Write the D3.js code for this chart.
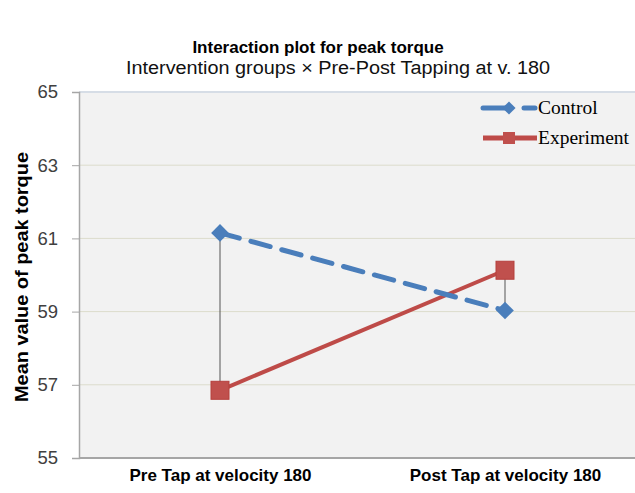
<!DOCTYPE html>
<html><head><meta charset="utf-8">
<script src="https://cdn.jsdelivr.net/npm/d3@7"></script>
<style>body{margin:0;background:#fff}svg{display:block}</style>
</head><body>
<svg id="c" width="635" height="493"></svg>
<script>
const categories = ["Pre Tap at velocity 180", "Post Tap at velocity 180"];
const controlValues = [61.15, 59.03];
const experimentValues = [56.85, 60.13];
const yTicks = [55, 57, 59, 61, 63, 65];
const seriesNames = ["Control", "Experiment"];

const svg = d3.select("#c");
const pL = 79, pR = 635, pT = 92, pB = 458;

const x = d3.scalePoint().domain(categories).range([220, 505]);
const y = d3.scaleLinear().domain([55, 65]).range([pB, pT]);

// plot background
svg.append("rect").attr("x", pL).attr("y", pT).attr("width", pR - pL).attr("height", pB - pT).attr("fill", "#f2f2f2");

// gridlines
svg.append("g").selectAll("line").data(yTicks.filter(t => t > 55 && t < 65)).join("line")
  .attr("x1", pL).attr("x2", pR).attr("y1", d => y(d)).attr("y2", d => y(d))
  .attr("stroke", "#dcdccc").attr("stroke-width", 1);
// top border
svg.append("line").attr("x1", pL).attr("x2", pR).attr("y1", y(65)).attr("y2", y(65)).attr("stroke", "#d6dde6").attr("stroke-width", 2);

// y axis
const yAxis = d3.axisLeft(y).tickValues(yTicks).tickSize(7).tickPadding(14).tickFormat(d3.format("d"));
const gy = svg.append("g").attr("transform", `translate(${pL},0)`).call(yAxis);
gy.select(".domain").attr("stroke", "#a6a6a6").attr("stroke-width", 1.5);
gy.selectAll(".tick line").attr("stroke", "#a6a6a6");
gy.selectAll(".tick text").attr("font-family", "Liberation Sans, Arial, sans-serif").attr("font-size", 18.5).attr("fill", "#404040");

// x axis line
svg.append("line").attr("x1", pL).attr("x2", pR).attr("y1", pB).attr("y2", pB).attr("stroke", "#a6a6a6").attr("stroke-width", 2);
const xAxis = d3.axisBottom(x).tickSize(0).tickPadding(11);
const gx = svg.append("g").attr("transform", `translate(0,${pB})`).call(xAxis);
gx.select(".domain").remove();
gx.selectAll(".tick text").attr("font-family", "Liberation Sans, Arial, sans-serif").attr("font-size", 17).attr("font-weight", "bold").attr("fill", "#000").attr("dy", "0.71em");

// drop lines between series
svg.append("g").selectAll("line").data(categories).join("line")
  .attr("x1", d => x(d)).attr("x2", d => x(d))
  .attr("y1", (d, i) => y(controlValues[i])).attr("y2", (d, i) => y(experimentValues[i]))
  .attr("stroke", "#555").attr("stroke-width", 1);

const line = d3.line().x(d => x(d.c)).y(d => y(d.v));
const blue = "#4a7ebb", red = "#be4b48";
const cData = categories.map((c, i) => ({c, v: controlValues[i]}));
const eData = categories.map((c, i) => ({c, v: experimentValues[i]}));

svg.append("path").attr("d", line(eData)).attr("fill", "none").attr("stroke", red).attr("stroke-width", 4);
svg.append("path").attr("d", line(cData)).attr("fill", "none").attr("stroke", blue).attr("stroke-width", 5)
  .attr("stroke-dasharray", "20,12").attr("stroke-linecap", "round");

const diamond = d3.symbol().type(d3.symbolDiamond2).size(200);
svg.append("g").selectAll("path").data(cData).join("path")
  .attr("transform", d => `translate(${x(d.c)},${y(d.v)})`).attr("d", diamond).attr("fill", blue);
svg.append("g").selectAll("rect").data(eData).join("rect")
  .attr("x", d => x(d.c) - 9).attr("y", d => y(d.v) - 9).attr("width", 18).attr("height", 18)
  .attr("fill", "#c0504d").attr("stroke", "#b5403d").attr("stroke-width", 1);

// legend
const lg = svg.append("g");
const lx0 = 483, lx1 = 537, ly = [108, 138];
lg.append("line").attr("x1", lx0).attr("x2", 509).attr("y1", ly[0]).attr("y2", ly[0]).attr("stroke", blue).attr("stroke-width", 5).attr("stroke-linecap", "round");
lg.append("line").attr("x1", 524).attr("x2", lx1 - 2).attr("y1", ly[0]).attr("y2", ly[0]).attr("stroke", blue).attr("stroke-width", 5).attr("stroke-linecap", "round");
lg.append("path").attr("transform", `translate(509,${ly[0]})`).attr("d", d3.symbol().type(d3.symbolDiamond2).size(110)).attr("fill", blue);
lg.append("line").attr("x1", lx0).attr("x2", lx1).attr("y1", ly[1]).attr("y2", ly[1]).attr("stroke", red).attr("stroke-width", 5);
lg.append("rect").attr("x", 509 - 6).attr("y", ly[1] - 6).attr("width", 12).attr("height", 12).attr("fill", "#c0504d");
lg.selectAll("text").data(seriesNames).join("text")
  .attr("x", lx1 + 1).attr("y", (d, i) => ly[i]).attr("dy", "0.33em")
  .attr("font-family", "Liberation Serif, Times New Roman, serif").attr("font-size", 19.5).attr("fill", "#000")
  .text(d => d);

// titles
svg.append("text").attr("x", 318).attr("y", 53).attr("text-anchor", "middle")
  .attr("font-family", "Liberation Sans, Arial, sans-serif").attr("font-size", 17).attr("font-weight", "bold")
  .text("Interaction plot for peak torque");
svg.append("text").attr("x", 338).attr("y", 74).attr("text-anchor", "middle")
  .attr("font-family", "Liberation Sans, Arial, sans-serif").attr("font-size", 18).attr("fill", "#111")
  .attr("textLength", 424).attr("lengthAdjust", "spacingAndGlyphs")
  .text("Intervention  groups × Pre-Post Tapping at v. 180");
svg.append("text").attr("transform", `translate(28,277) rotate(-90)`).attr("text-anchor", "middle")
  .attr("font-family", "Liberation Sans, Arial, sans-serif").attr("font-size", 18).attr("font-weight", "bold")
  .attr("textLength", 250).attr("lengthAdjust", "spacingAndGlyphs")
  .text("Mean value of peak torque");
</script>
</body></html>
